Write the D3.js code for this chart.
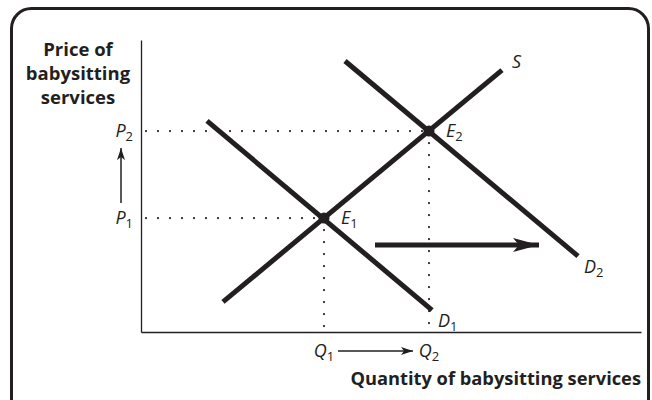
<!DOCTYPE html>
<html>
<head>
<meta charset="utf-8">
<script src="https://cdn.jsdelivr.net/npm/d3@7"></script>
<style>
  body { margin: 0; background: #fff; }
  text { font-family: "Open Sans", "DejaVu Sans", sans-serif; fill: #231f20; }
  .bold { font-weight: 700; font-size: 18.3px; }
  .ytitle { font-size: 18.5px; }
  .lab { font-style: italic; font-size: 18px; font-weight: 400; }
  .sub { font-style: normal; font-size: 13px; }
</style>
</head>
<body>
<svg id="chart" width="652" height="400"></svg>
<script>
// equilibrium values (axis units 0-100)
var quantities = [36.6, 57.6];   // Q1, Q2
var prices = [39, 68.8];         // P1, P2
var eqLabels = ["1", "2"];

// curves: [x1, y1, x2, y2]
var supplyLine = [16.4, 10.3, 72.2, 89.7];
var demandLines = [
    [13.2, 72.3, 58.2, 7.5],   // D1
    [40.8, 92.8, 87.4, 26.0]   // D2
];
var demandNames = ["1", "2"];
var shiftArrow = [46.8, 29.8, 80.8, 29.8];
var yTitleLines = ["Price of", "babysitting", "services"];

var dimensions = {
    width: 652,
    height: 400,
    margin: { top: 40, bottom: 68, left: 141, right: 11 }
};

var svg = d3.select("#chart");
var ink = "#231f20";

var xScale = d3.scaleLinear()
    .domain([0, 100])
    .range([dimensions.margin.left, dimensions.width - dimensions.margin.right]);
var yScale = d3.scaleLinear()
    .domain([0, 100])
    .range([dimensions.height - dimensions.margin.bottom, dimensions.margin.top]);

// frame
svg.append("rect")
    .attr("x", 11.5).attr("y", 8.5)
    .attr("width", 637).attr("height", 410)
    .attr("rx", 20).attr("ry", 20)
    .attr("fill", "none").attr("stroke", ink).attr("stroke-width", 3);

// arrow heads
var defs = svg.append("defs");
defs.append("marker")
    .attr("id", "thin").attr("viewBox", "0 0 12 8")
    .attr("refX", 12).attr("refY", 4)
    .attr("markerWidth", 12).attr("markerHeight", 8)
    .attr("markerUnits", "userSpaceOnUse").attr("orient", "auto")
    .append("path").attr("d", "M0,0 L12,4 L0,8 L3,4 Z").attr("fill", ink);
defs.append("marker")
    .attr("id", "thick").attr("viewBox", "0 0 26 14")
    .attr("refX", 26).attr("refY", 7)
    .attr("markerWidth", 26).attr("markerHeight", 14)
    .attr("markerUnits", "userSpaceOnUse").attr("orient", "auto")
    .append("path").attr("d", "M0,0 L26,7 L0,14 L6,7 Z").attr("fill", ink);

// axes (plain lines, no ticks)
var xAxis = d3.axisBottom(xScale).tickValues([]).tickSizeOuter(0);
svg.append("g")
    .attr("transform", `translate(0, ${yScale(0)})`)
    .call(xAxis)
    .select(".domain").attr("stroke", ink).attr("stroke-width", 1.3);
var yAxis = d3.axisLeft(yScale).tickValues([]).tickSizeOuter(0);
svg.append("g")
    .attr("transform", `translate(${xScale(0)}, 0)`)
    .call(yAxis)
    .select(".domain").attr("stroke", ink).attr("stroke-width", 1.3);

// dotted guides
var dots = svg.append("g")
    .attr("stroke", ink).attr("stroke-width", 2.2)
    .attr("stroke-linecap", "round").attr("stroke-dasharray", "0,12");
quantities.forEach((q, i) => {
    dots.append("line")
        .attr("x1", xScale(0) + 5).attr("y1", yScale(prices[i]))
        .attr("x2", xScale(q)).attr("y2", yScale(prices[i]));
    dots.append("line")
        .attr("x1", xScale(q)).attr("y1", yScale(prices[i]))
        .attr("x2", xScale(q)).attr("y2", yScale(0));
});

// supply and demand curves
var curves = [supplyLine].concat(demandLines);
svg.selectAll(".curve")
    .data(curves)
    .enter()
    .append("line")
    .attr("class", "curve")
    .attr("x1", d => xScale(d[0])).attr("y1", d => yScale(d[1]))
    .attr("x2", d => xScale(d[2])).attr("y2", d => yScale(d[3]))
    .attr("stroke", ink).attr("stroke-width", 5);

// equilibrium points
svg.selectAll(".eq")
    .data(quantities)
    .enter()
    .append("circle")
    .attr("class", "eq")
    .attr("cx", d => xScale(d))
    .attr("cy", (d, i) => yScale(prices[i]))
    .attr("r", 5.5)
    .attr("fill", ink);

// shift arrow
svg.append("line")
    .attr("x1", xScale(shiftArrow[0])).attr("y1", yScale(shiftArrow[1]))
    .attr("x2", xScale(shiftArrow[2]) - 6).attr("y2", yScale(shiftArrow[3]))
    .attr("stroke", ink).attr("stroke-width", 5)
    .attr("marker-end", "url(#thick)");

// helper for italic label with subscript
function label(x, y, main, sub, anchor) {
    var t = svg.append("text")
        .attr("class", "lab")
        .attr("x", x).attr("y", y)
        .attr("text-anchor", anchor || "start");
    t.append("tspan").text(main);
    if (sub) t.append("tspan").attr("class", "sub").attr("dy", 4).text(sub);
    return t;
}

// P and Q labels
prices.forEach((p, i) => label(xScale(0) - 8, yScale(p) + 6, "P", eqLabels[i], "end"));
quantities.forEach((q, i) => label(xScale(q), 357, "Q", eqLabels[i], "middle"));

// E labels
quantities.forEach((q, i) => label(xScale(q) + 17, yScale(prices[i]) + 6, "E", eqLabels[i]));

// S and D labels
label(xScale(supplyLine[2]) + 10, yScale(supplyLine[3]) - 2, "S");
demandLines.forEach((d, i) => label(xScale(d[2]) + 6, yScale(d[3]) + 17, "D", demandNames[i]));

// small arrows between P1-P2 and Q1-Q2
svg.append("line")
    .attr("x1", 121).attr("y1", (yScale(prices[0]) - 15))
    .attr("x2", 121).attr("y2", (yScale(prices[1]) + 17))
    .attr("stroke", ink).attr("stroke-width", 1.5)
    .attr("marker-end", "url(#thin)");
svg.append("line")
    .attr("x1", xScale(quantities[0]) + 14).attr("y1", 351)
    .attr("x2", xScale(quantities[1]) - 16).attr("y2", 351)
    .attr("stroke", ink).attr("stroke-width", 1.5)
    .attr("marker-end", "url(#thin)");

// axis titles
svg.selectAll(".ytitle")
    .data(yTitleLines)
    .enter()
    .append("text")
    .attr("class", "bold ytitle")
    .attr("text-anchor", "middle")
    .attr("x", 78)
    .attr("y", (d, i) => 56 + i * 24)
    .text(d => d);
svg.append("text")
    .attr("class", "bold")
    .attr("x", xScale(100)).attr("y", 385)
    .attr("text-anchor", "end")
    .text("Quantity of babysitting services");
</script>
</body>
</html>
